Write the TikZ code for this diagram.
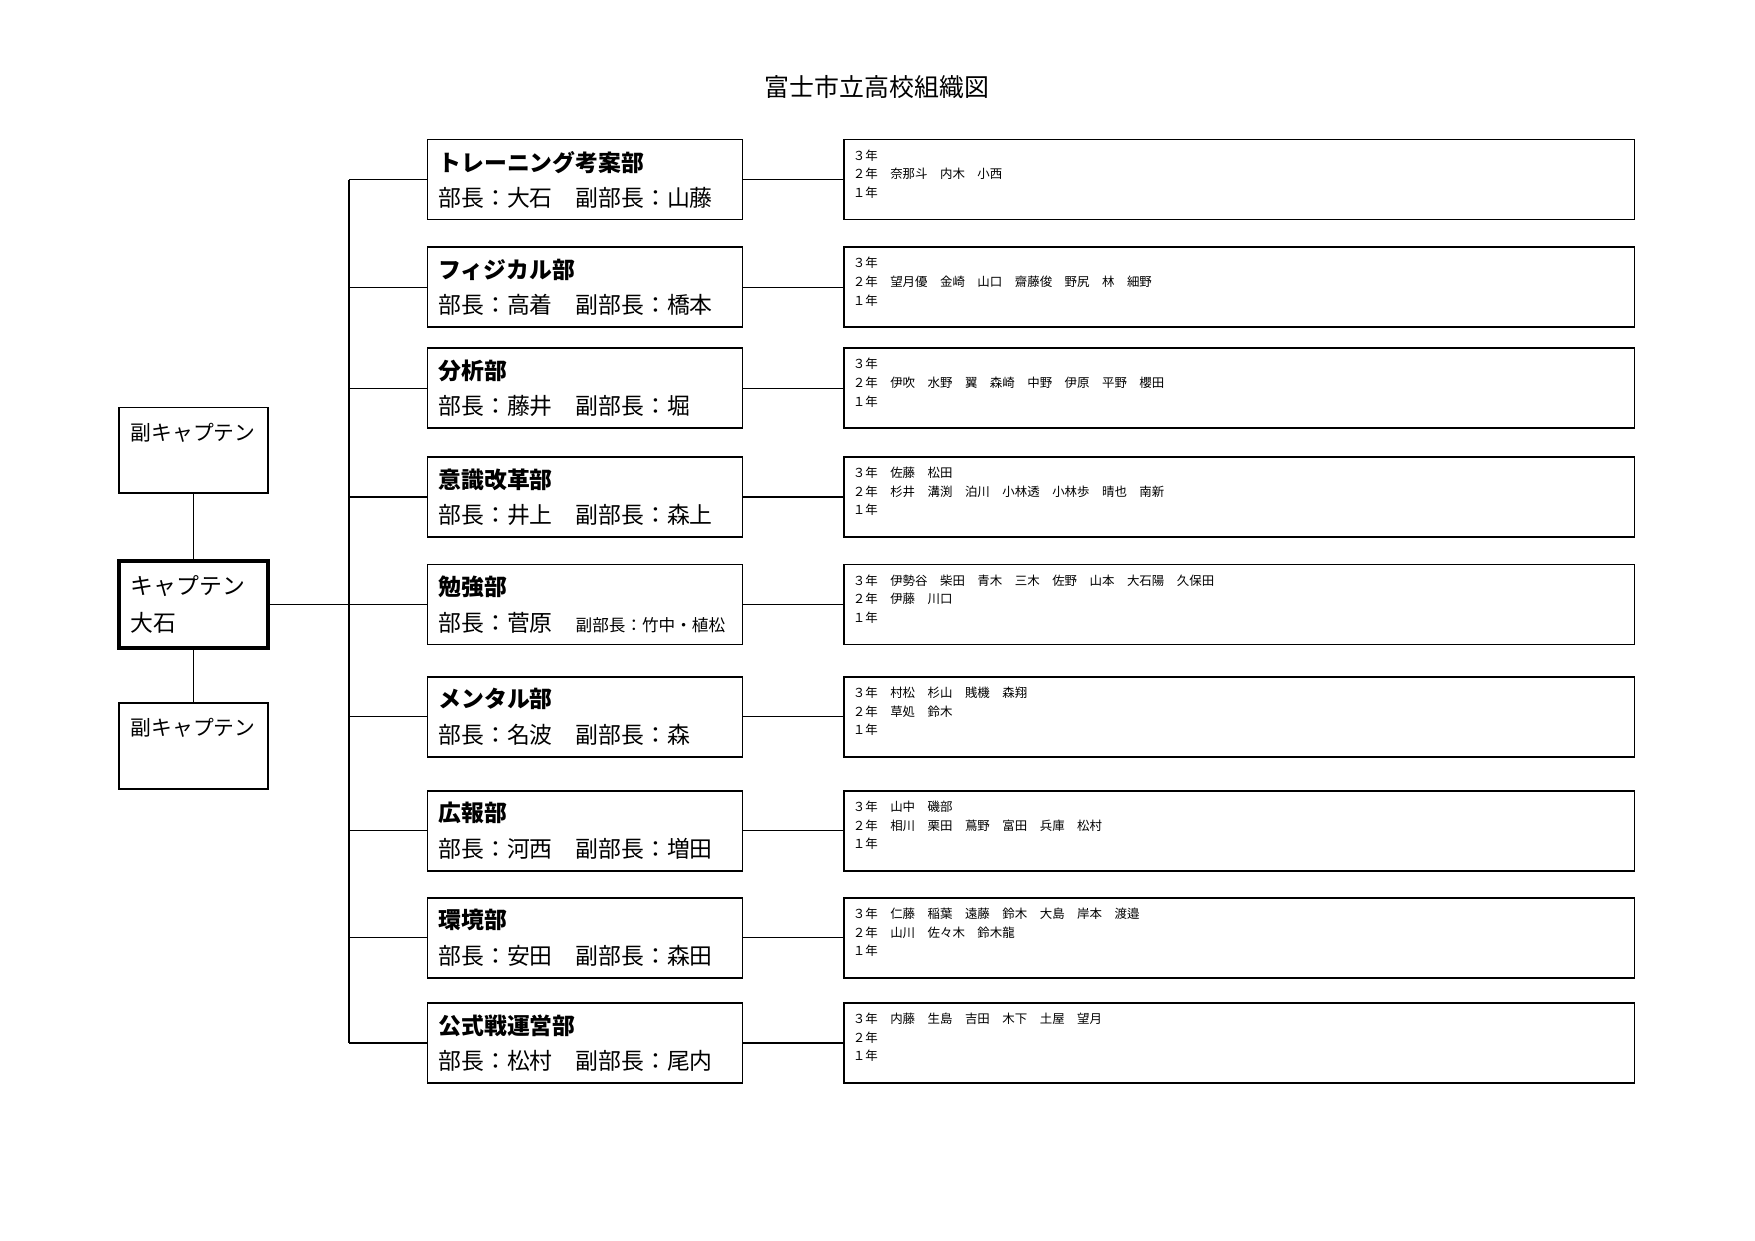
\documentclass[tikz,border=0pt]{standalone}
\usepackage{fontspec}
\setmainfont{Noto Sans CJK JP}
\usetikzlibrary{positioning}
\newcommand{\padrow}{\\[-6pt]\strut}
\tikzstyle{dept}=[rectangle, draw, line width=0.8pt, text width=141pt,
    inner xsep=5.3pt, minimum height=1.354cm, align=left,
    font=\fontsize{11}{17}\selectfont]
\tikzstyle{mem}=[rectangle, draw, line width=0.8pt, text width=372pt,
    inner xsep=4.3pt, minimum height=1.354cm, align=left,
    font=\fontsize{6}{9}\selectfont]
\tikzstyle{capbox}=[rectangle, draw, line width=1.8pt, text width=60.5pt,
    inner xsep=5.5pt, minimum height=1.472cm, align=left,
    font=\fontsize{11}{17.8}\selectfont]
\tikzstyle{vcap}=[rectangle, draw, line width=0.8pt, text width=60.5pt,
    inner xsep=5.5pt, minimum height=1.455cm, align=left,
    font=\fontsize{10}{17.8}\selectfont]

\begin{document}
\begin{tikzpicture}[semithick,node distance=1cm]
  \useasboundingbox (0,0) rectangle (29.7,-20.985);
  \node[font=\fontsize{12}{14}\selectfont] (title) at (14.84,-1.47) {富士市立高校組織図};

  % departments
  \node[dept] (d1) at (9.90,-3.04)  {\textbf{トレーニング考案部}\\部長：大石　副部長：山藤};
  \node[dept] (d2) at (9.90,-4.86)  {\textbf{フィジカル部}\\部長：高着　副部長：橋本};
  \node[dept] (d3) at (9.90,-6.57)  {\textbf{分析部}\\部長：藤井　副部長：堀};
  \node[dept] (d4) at (9.90,-8.41)  {\textbf{意識改革部}\\部長：井上　副部長：森上};
  \node[dept] (d5) at (9.90,-10.23) {\textbf{勉強部}\\部長：菅原　{\fontsize{8}{10}\selectfont 副部長：竹中・植松}};
  \node[dept] (d6) at (9.90,-12.13) {\textbf{メンタル部}\\部長：名波　副部長：森};
  \node[dept] (d7) at (9.90,-14.06) {\textbf{広報部}\\部長：河西　副部長：増田};
  \node[dept] (d8) at (9.90,-15.87) {\textbf{環境部}\\部長：安田　副部長：森田};
  \node[dept] (d9) at (9.90,-17.65) {\textbf{公式戦運営部}\\部長：松村　副部長：尾内};

  % members
  \node[mem, right=1.69cm of d1] (m1) {３年\\２年　奈那斗　内木　小西\\１年\padrow};
  \node[mem, right=1.69cm of d2] (m2) {３年\\２年　望月優　金崎　山口　齋藤俊　野尻　林　細野\\１年\padrow};
  \node[mem, right=1.69cm of d3] (m3) {３年\\２年　伊吹　水野　翼　森崎　中野　伊原　平野　櫻田\\１年\padrow};
  \node[mem, right=1.69cm of d4] (m4) {３年　佐藤　松田\\２年　杉井　溝渕　泊川　小林透　小林歩　晴也　南新\\１年\padrow};
  \node[mem, right=1.69cm of d5] (m5) {３年　伊勢谷　柴田　青木　三木　佐野　山本　大石陽　久保田\\２年　伊藤　川口\\１年\padrow};
  \node[mem, right=1.69cm of d6] (m6) {３年　村松　杉山　賎機　森翔\\２年　草処　鈴木\\１年\padrow};
  \node[mem, right=1.69cm of d7] (m7) {３年　山中　磯部\\２年　相川　栗田　蔦野　富田　兵庫　松村\\１年\padrow};
  \node[mem, right=1.69cm of d8] (m8) {３年　仁藤　稲葉　遠藤　鈴木　大島　岸本　渡邉\\２年　山川　佐々木　鈴木龍\\１年\padrow};
  \node[mem, right=1.69cm of d9] (m9) {３年　内藤　生島　吉田　木下　土屋　望月\\２年\\１年\padrow};

  % captain and vice captains
  \node[capbox] (captain) at (3.275,-10.23) {キャプテン\\大石};
  \node[vcap, above=1.10cm of captain] (vice1) {副キャプテン\\\mbox{}};
  \node[vcap, below=0.88cm of captain] (vice2) {副キャプテン\\\mbox{}};

  \coordinate (bus) at (5.906,0);
  \path (vice1) edge (captain)
        (captain) edge (vice2)
        (captain.east) edge (captain.east -| bus);
  \draw (d1.west -| bus) -- (d9.west -| bus);
  \path (d1.west -| bus) edge (d1) (d2.west -| bus) edge (d2)
        (d3.west -| bus) edge (d3) (d4.west -| bus) edge (d4)
        (d5.west -| bus) edge (d5) (d6.west -| bus) edge (d6)
        (d7.west -| bus) edge (d7) (d8.west -| bus) edge (d8)
        (d9.west -| bus) edge (d9);
  \path (d1) edge (m1) (d2) edge (m2) (d3) edge (m3)
        (d4) edge (m4) (d5) edge (m5) (d6) edge (m6)
        (d7) edge (m7) (d8) edge (m8) (d9) edge (m9);
\end{tikzpicture}
\end{document}
